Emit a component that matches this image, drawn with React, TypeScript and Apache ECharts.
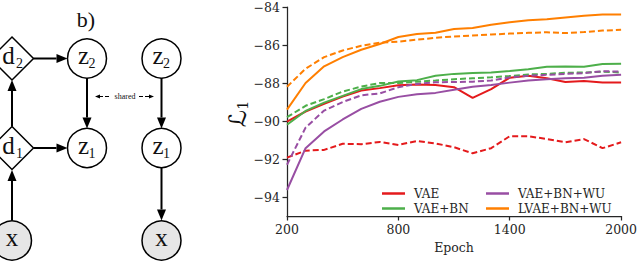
import React, { useEffect, useRef } from "react";
import * as echarts from "echarts";

const epochs = [200, 300, 400, 500, 600, 700, 800, 900, 1000, 1100, 1200, 1300, 1400, 1500, 1600, 1700, 1800, 1900, 2000];
const yTicks = [-94, -92, -90, -88, -86, -84];

const vaeSolid = [-90.03, -89.5, -89.1, -88.71, -88.4, -88.27, -88.12, -88.08, -88.1, -88.22, -88.78, -88.32, -87.72, -87.62, -87.75, -87.95, -87.9, -87.97, -87.97];
const vaeDashed = [-91.93, -91.56, -91.52, -91.2, -91.22, -91.1, -91.26, -91.05, -91.18, -91.38, -91.7, -91.43, -90.8, -90.8, -90.95, -91.12, -90.95, -91.43, -91.12];
const bnSolid = [-90.2, -89.47, -89.03, -88.68, -88.32, -88.15, -87.92, -87.85, -87.62, -87.52, -87.48, -87.45, -87.37, -87.28, -87.15, -87.13, -87.15, -87.0, -86.99];
const bnDashed = [-89.8, -89.2, -88.85, -88.45, -88.19, -88.0, -88.0, -87.93, -87.87, -87.8, -87.75, -87.7, -87.63, -87.55, -87.52, -87.46, -87.45, -87.4, -87.45];
const wuSolid = [-93.63, -91.43, -90.55, -89.92, -89.36, -88.99, -88.73, -88.59, -88.52, -88.36, -88.2, -88.1, -87.98, -87.87, -87.8, -87.75, -87.72, -87.62, -87.57];
const wuDashed = [-92.3, -90.35, -89.45, -89.0, -88.65, -88.55, -88.22, -88.05, -87.96, -87.95, -87.93, -87.87, -87.7, -87.62, -87.57, -87.52, -87.48, -87.38, -87.4];
const lvaeSolid = [-89.4, -88.0, -87.12, -86.64, -86.25, -85.95, -85.58, -85.42, -85.35, -85.16, -85.1, -84.93, -84.8, -84.7, -84.64, -84.55, -84.46, -84.4, -84.4];
const lvaeDashed = [-88.2, -87.25, -86.64, -86.29, -86.04, -85.88, -85.82, -85.72, -85.62, -85.55, -85.5, -85.45, -85.4, -85.36, -85.33, -85.37, -85.32, -85.24, -85.2];

const legendLeft = ["VAE", "VAE+BN"];
const legendRight = ["VAE+BN+WU", "LVAE+BN+WU"];

const RED = "#e41a1c";
const GREEN = "#4daf4a";
const PURPLE = "#984ea3";
const ORANGE = "#ff7f00";

const SERIF = "'Liberation Serif', 'DejaVu Serif', serif";
const DJS = "'DejaVu Serif', serif";

function mk(name: string, vals: number[], color: string, dashed: boolean) {
  return {
    type: "line",
    name,
    data: epochs.map((e, i) => [e, vals[i]]),
    showSymbol: false,
    symbol: "none",
    silent: true,
    itemStyle: { color },
    lineStyle: { color, width: 2, type: dashed ? [6, 3] : "solid", cap: "butt" },
  };
}

function arrow(x1: number, y1: number, x2: number, y2: number, head = 11, hw = 4.5) {
  const dx = x2 - x1, dy = y2 - y1;
  const L = Math.sqrt(dx * dx + dy * dy);
  const ux = dx / L, uy = dy / L;
  const bx = x2 - ux * head, by = y2 - uy * head;
  return [
    { type: "line", shape: { x1, y1, x2: bx, y2: by }, style: { stroke: "#000", lineWidth: 2 } },
    {
      type: "polygon",
      shape: { points: [[x2, y2], [bx - uy * hw, by + ux * hw], [bx + uy * hw, by - ux * hw]] },
      style: { fill: "#000" },
    },
  ];
}

function circle(cx: number, cy: number, fill = "#fff") {
  return { type: "circle", shape: { cx, cy, r: 19.5 }, style: { fill, stroke: "#000", lineWidth: 1.5 } };
}

function diamond(cx: number, cy: number) {
  const h = 21.5;
  return {
    type: "polygon",
    shape: { points: [[cx, cy - h], [cx + h, cy], [cx, cy + h], [cx - h, cy]] },
    style: { fill: "#fff", stroke: "#000", lineWidth: 1.5 },
  };
}

function label(cx: number, cy: number, main: string, sub?: string, mdx = -3.5, sdx = 5) {
  const els: any[] = [];
  const mx = sub ? cx + mdx : cx;
  els.push({
    type: "text",
    x: mx,
    y: cy - 3,
    style: { text: main, fontSize: 25, fontFamily: SERIF, fill: "#111", align: "center", verticalAlign: "middle" },
  });
  if (sub) {
    els.push({
      type: "text",
      x: cx + sdx,
      y: cy + 5,
      style: { text: sub, fontSize: 14, fontFamily: SERIF, fill: "#111", align: "center", verticalAlign: "middle" },
    });
  }
  return els;
}

function diagram() {
  const els: any[] = [];
  // left model
  els.push(...arrow(12, 220.5, 12, 170));
  els.push(...arrow(12, 126.5, 12, 80));
  els.push(...arrow(33.5, 58.5, 67.5, 58.5));
  els.push(...arrow(33.5, 148, 67.5, 148));
  els.push(...arrow(87, 78, 87, 128.5));
  // right model
  els.push(...arrow(161.5, 78, 161.5, 128.5));
  els.push(...arrow(161.5, 168, 161.5, 220.5));
  els.push(diamond(12, 58.5), diamond(12, 148));
  els.push(circle(87, 58.5), circle(87, 148), circle(12, 240.5, "#e6e6e6"));
  els.push(circle(161.5, 58.5), circle(161.5, 148), circle(161.5, 240.5, "#e6e6e6"));
  els.push(...label(12, 58.5, "d", "2", -3.5, 7.5));
  els.push(...label(12, 148, "d", "1", -3.5, 7.5));
  els.push(...label(87, 58.5, "z", "2"));
  els.push(...label(87, 148, "z", "1"));
  els.push(...label(12, 240.5, "x"));
  els.push(...label(161.5, 58.5, "z", "2"));
  els.push(...label(161.5, 148, "z", "1"));
  els.push(...label(161.5, 240.5, "x"));
  // shared
  els.push({ type: "line", shape: { x1: 99, y1: 96.5, x2: 111, y2: 96.5 }, style: { stroke: "#000", lineWidth: 1, lineDash: [4, 2] } });
  els.push({ type: "line", shape: { x1: 139, y1: 96.5, x2: 150, y2: 96.5 }, style: { stroke: "#000", lineWidth: 1, lineDash: [4, 2] } });
  els.push({ type: "polygon", shape: { points: [[95, 96.5], [100, 94.5], [100, 98.5]] }, style: { fill: "#000" } });
  els.push({ type: "polygon", shape: { points: [[154, 96.5], [149, 94.5], [149, 98.5]] }, style: { fill: "#000" } });
  els.push({
    type: "text",
    x: 125,
    y: 96.5,
    style: { text: "shared", fontSize: 8, fontFamily: SERIF, fill: "#111", align: "center", verticalAlign: "middle" },
  });
  els.push({
    type: "text",
    x: 86,
    y: 19,
    style: { text: "b)", fontSize: 22, fontFamily: SERIF, fill: "#111", align: "center", verticalAlign: "middle" },
  });
  // y-axis label
  els.push({
    type: "text",
    x: 238,
    y: 114,
    rotation: Math.PI / 2,
    style: {
      text: "{L|ℒ}{s|1}",
      align: "center",
      verticalAlign: "middle",
      fill: "#111",
      rich: {
        L: { fontSize: 24, fontFamily: "'DejaVu Serif', 'DejaVu Sans'", fill: "#111" },
        s: { fontSize: 14, fontFamily: DJS, fill: "#111", verticalAlign: "bottom", padding: [8, 0, 0, 0] },
      },
    },
  });
  return els;
}

export default function App() {
  const ref = useRef<HTMLDivElement>(null);
  useEffect(() => {
    if (!ref.current) return;
    const chart = echarts.init(ref.current, undefined, { renderer: "svg" });
    const axisColor = "#262626";
    const legendCommon = {
      orient: "vertical",
      top: 182,
      icon: "rect",
      itemWidth: 23,
      itemHeight: 2.5,
      itemGap: 2,
      textStyle: { fontFamily: DJS, fontSize: 12, color: "#262626", lineHeight: 13, padding: [0, 0, 0, 4] },
      selectedMode: false,
    };
    chart.setOption({
      animation: false,
      backgroundColor: "#ffffff",
      grid: { left: 287, top: 7, width: 336, height: 209, containLabel: false },
      legend: [
        { ...legendCommon, left: 377, data: legendLeft },
        { ...legendCommon, left: 481, data: legendRight },
      ],
      xAxis: {
        type: "value",
        min: 200,
        max: 2000,
        interval: 600,
        name: "Epoch",
        nameLocation: "middle",
        nameGap: 25,
        nameTextStyle: { fontFamily: DJS, fontSize: 12.5, color: axisColor },
        axisLine: { show: true, onZero: false, lineStyle: { color: axisColor, width: 1.25 } },
        axisTick: { show: true, length: 4.5, lineStyle: { color: axisColor, width: 1.25 } },
        axisLabel: { margin: 7, fontFamily: DJS, fontSize: 12.5, color: axisColor, formatter: (v: number) => String(v) },
        splitLine: { show: false },
      },
      yAxis: {
        type: "value",
        min: -95,
        max: -84,
        axisLine: { show: true, onZero: false, lineStyle: { color: axisColor, width: 1.25 } },
        axisTick: { show: true, length: 4.5, customValues: yTicks, lineStyle: { color: axisColor, width: 1.25 } },
        axisLabel: {
          margin: 7,
          customValues: yTicks,
          fontFamily: DJS,
          fontSize: 12.5,
          color: axisColor,
          formatter: (v: number) => (v < 0 ? "\u2212" + Math.abs(v) : String(v)),
        },
        splitLine: { show: false },
      },
      graphic: diagram(),
      series: [
        mk("VAE", vaeSolid, RED, false),
        mk("VAE (dashed)", vaeDashed, RED, true),
        mk("VAE+BN", bnSolid, GREEN, false),
        mk("VAE+BN (dashed)", bnDashed, GREEN, true),
        mk("VAE+BN+WU", wuSolid, PURPLE, false),
        mk("VAE+BN+WU (dashed)", wuDashed, PURPLE, true),
        mk("LVAE+BN+WU", lvaeSolid, ORANGE, false),
        mk("LVAE+BN+WU (dashed)", lvaeDashed, ORANGE, true),
      ],
    });
    return () => chart.dispose();
  }, []);
  return <div ref={ref} style={{ position: "fixed", left: 0, top: 0, width: 640, height: 261 }} />;
}
